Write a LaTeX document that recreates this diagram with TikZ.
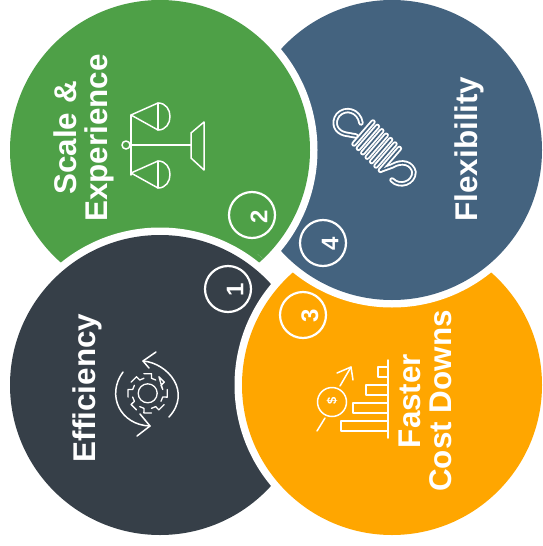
\documentclass[tikz,border=0pt]{standalone}
\usepackage{fontspec}
\setmainfont{Liberation Sans}
\definecolor{cgreen}{HTML}{4EA047}
\definecolor{cblue}{HTML}{44637F}
\definecolor{cdark}{HTML}{363F48}
\definecolor{corange}{HTML}{FFA600}
\tikzset{
  halo/.style={draw=white,line width=15pt},
  lbl/.style={text=white,rotate=90,align=center,font=\fontsize{31.4}{31}\selectfont\bfseries,inner sep=0pt},
  numring/.style={circle,draw=white,line width=2.2pt,minimum size=46pt,inner sep=0pt},
  numtxt/.style={text=white,rotate=90,font=\fontsize{24}{24}\selectfont\bfseries,inner sep=0pt},
  icon/.style={draw=white,line width=1.5pt,line join=round,line cap=round},
  coil/.style={draw=white,line width=5.4pt,line cap=round,line join=round},
  coilin/.style={draw=cblue,line width=1.6pt,line cap=round,line join=round}
}
\begin{document}
\begin{tikzpicture}[x=1pt,y=-1pt]
\useasboundingbox (0,0) rectangle (543,546);
\fill[white] (0,0) rectangle (543,546);
% lobes, each one cut by the next
\fill[cgreen] (160,150) circle (150);
\draw[halo] (160,385) circle (150);
\fill[cdark] (160,385) circle (150);
\draw[halo] (392,385) circle (150);
\fill[corange] (392,385) circle (150);
\draw[halo] (392,150) circle (150);
\fill[cblue] (392,150) circle (150);
\begin{scope}
  \clip (225,0) -- (225,225) -- (262,258) -- (400,258) -- (400,0) -- cycle;
  \draw[halo] (160,150) circle (150);
  \fill[cgreen] (160,150) circle (150);
\end{scope}
% labels
\node[lbl] (scale) at (84,138) {Scale \&\\Experience};
\node[lbl] (flex) at (469,149) {Flexibility};
\node[lbl] (eff) at (87,388) {Efficiency};
\node[lbl] (cost) at (425,401) {Faster\\Cost Downs};
% numbers
\node[numring] (r2) at (252,215) {};
\node[numring] (r4) at (323,243) {};
\node[numring] (r1) at (228,289) {};
\node[numring] (r3) at (303,315) {};
\node[numtxt] (n2) at (259,217) {2};
\node[numtxt] (n4) at (330,244) {4};
\node[numtxt] (n1) at (235,290) {1};
\node[numtxt] (n3) at (310,316) {3};
% scale icon
\draw[icon] (131,115) -- (131,175);
\draw[icon] (126,145) circle (4);
\draw[icon] (130,145) -- (191,145);
\draw[icon] (191,133) -- (204,122) -- (204,170) -- (191,158) -- cycle;
\foreach \d in {0,58}{
  \draw[icon] (131,115+\d) -- (158,103+\d) .. controls (174,103+\d) and (174,130+\d) .. (158,130+\d) -- cycle;
  \draw[icon] (158,103+\d) -- (158,130+\d);
}
% spring icon
\foreach \s in {coil,coilin}{
  \draw[\s] (361,123) .. controls (359,110) and (345,107) .. (338,115)
     .. controls (332,123) and (336,132) .. (345,134) -- (356,136);
  \foreach \i in {0,...,6}{
    \draw[\s] ({373+4.4*\i},{122+4.4*\i}) -- ({354+4.4*\i},{144+4.4*\i});
  }
  \draw[\s] (381,170) -- (392,166) .. controls (402,160) and (412,163) .. (414,172)
     .. controls (414,183) and (400,188) .. (392,180);
}
% gear icon
\begin{scope}[shift={(147.7,393.3)}]
  \draw[icon,line width=1.3pt] (0,0) circle (9.5);
  \draw[icon,line width=1.3pt]
    \foreach \a in {0,45,...,315}{
      ({\a-11}:20) -- ({\a+11}:20) -- ({\a+14}:15.5) -- ({\a+31}:15.5)
    } -- cycle;
\end{scope}
\draw[icon] (143,361) .. controls (168,363) and (192,392) .. (169,417);
\draw[icon] (156,352) -- (143,361) -- (149,368);
\draw[icon] (123,372) .. controls (106,395) and (120,425) .. (150,426);
\draw[icon] (140,414) -- (150,426) -- (137,436);
% finance icon
\draw[icon] (388,360) -- (388,438);
\foreach \xa/\ya in {378/367,366/385,353/403,341/421}{
  \draw[icon] (388,\ya) -- (\xa,\ya) -- (\xa,\ya+10) -- (388,\ya+10);
}
\draw[icon] (332,402) circle (14.5);
\node[text=white,rotate=90,inner sep=0pt,font=\fontsize{13}{13}\selectfont\bfseries] (dollar) at (332,401) {\$};
\draw[icon] (325,418) -- (317,431);
\draw[icon] (340,386) -- (351,367);
\draw[icon] (337,373) -- (351,367) -- (353,380);
\end{tikzpicture}
\end{document}
